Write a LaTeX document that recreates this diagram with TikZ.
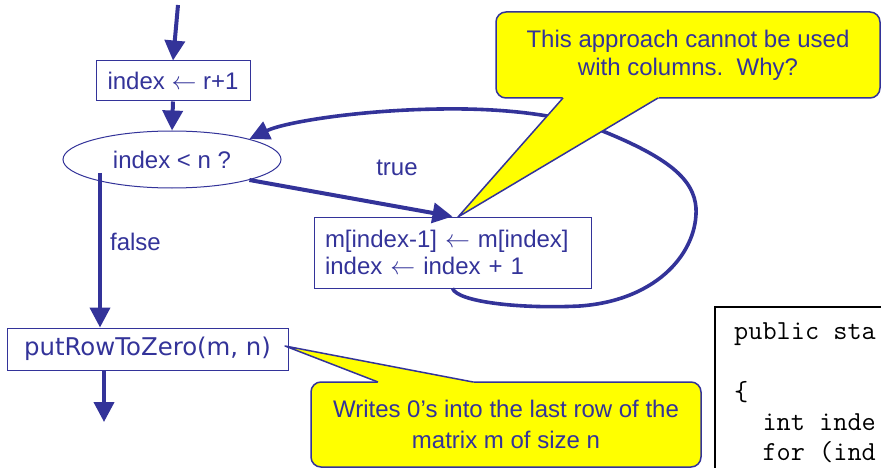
\documentclass[tikz,border=0pt]{standalone}
\usepackage{fontspec}
\setmainfont{Liberation Sans}
\newfontfamily\vfont{DejaVu Sans}
\usetikzlibrary{arrows.meta,shapes.geometric}
\definecolor{navy}{HTML}{333399}
\definecolor{callyellow}{HTML}{FFFF00}
\newcommand{\larr}{\ensuremath{\leftarrow}}
\begin{document}
\begin{tikzpicture}[x=1pt,y=-1pt,
  every node/.style={text=navy, font=\fontsize{24}{28}\selectfont, inner sep=0pt},
  flowbox/.style={draw=navy, line width=1pt, rectangle},
  flow/.style={draw=navy, line width=4pt, -{Triangle[length=20pt,width=20pt]}},
  loopline/.style={draw=navy, line width=3.6pt, -{Triangle[length=20pt,width=19pt]}},
  callbody/.style={draw=navy, fill=callyellow, line width=1.5pt, rounded corners=10pt, align=center},
  callptr/.style={draw=navy, line width=1.5pt, line join=round},
  codeline/.style={text=black, anchor=base west, font=\ttfamily\fontsize{27.5}{30}\selectfont}
]
\useasboundingbox (0,0) rectangle (881,468);
\clip (0,0) rectangle (881,468);

% flowchart nodes
\node[flowbox, minimum width=154pt, minimum height=40pt] (b1) at (173,81) {index \larr\ r+1};
\node[ellipse, draw=navy, line width=1pt, minimum width=218pt, minimum height=57pt] (ell) at (172,159.5) {index < n ?};
\node[flowbox, align=left, text width=255pt, inner xsep=11pt, minimum height=71pt,
      font=\fontsize{24}{27.8}\selectfont] (m) at (452.5,252.5) {m[index-1] \larr\ m[index]\\index \larr\ index + 1};
\node[flowbox, minimum width=281pt, minimum height=42pt, font=\vfont\fontsize{24.4}{28}\selectfont] (put) at (147.5,349) {putRowToZero(m, n)};
\node (true) at (397,168) {true};
\node (false) at (135.5,242) {false};

% connectors
\coordinate (start) at (178,5);
\coordinate (fs) at (100,173);
\coordinate (bend) at (104,422);
\draw[flow] (start) -- (b1.north);
\draw[flow] (b1.south) -- (ell.north);
\draw[flow] (ell.south east) -- (m.north);
\draw[flow] (fs) -- (fs |- put.north);
\draw[flow] (bend |- put.south) -- (bend);
\draw[loopline] (m.south) .. controls (458,302) and (520,309) .. (580,306)
   .. controls (660,300) and (698,250) .. (696,208)
   .. controls (694,180) and (670,158) .. (600,130)
   .. controls (560,114) and (500,108) .. (440,109)
   .. controls (360,110) and (285,122) .. (ell.north east);

% callout 1
\node[callbody, minimum width=384pt, minimum height=86pt] (c1) at (688,55)
  {This approach cannot be used\\with columns.\ \ Why?};
\coordinate (p1tip) at (458,217);
\fill[callyellow] (561,95) -- (563,98) -- (p1tip) -- (658,98) -- (661,95) -- cycle;
\draw[callptr] (563,98) -- (p1tip) -- (658,98);

% callout 2
\node[callbody, minimum width=390pt, minimum height=85pt, font=\fontsize{24}{31}\selectfont] (c2) at (506,424.5)
  {Writes 0’s into the last row of the\\matrix m of size n};
\coordinate (p2tip) at (285,346);
\fill[callyellow] (376,385) -- (378,382) -- (p2tip) -- (473,382) -- (475,385) -- cycle;
\draw[callptr] (378,382) -- (p2tip) -- (473,382);

% code box
\node[draw=black, line width=2pt, anchor=north west, minimum width=220pt, minimum height=220pt] (code) at (714,306) {};
\node[codeline] (cl1) at (734,339) {public sta};
\node[codeline] (cl2) at (734,400) {\{};
\node[codeline] (cl3) at (734,430) {\phantom{xx}int inde};
\node[codeline] (cl4) at (734,460) {\phantom{xx}for (ind};
\end{tikzpicture}
\end{document}
